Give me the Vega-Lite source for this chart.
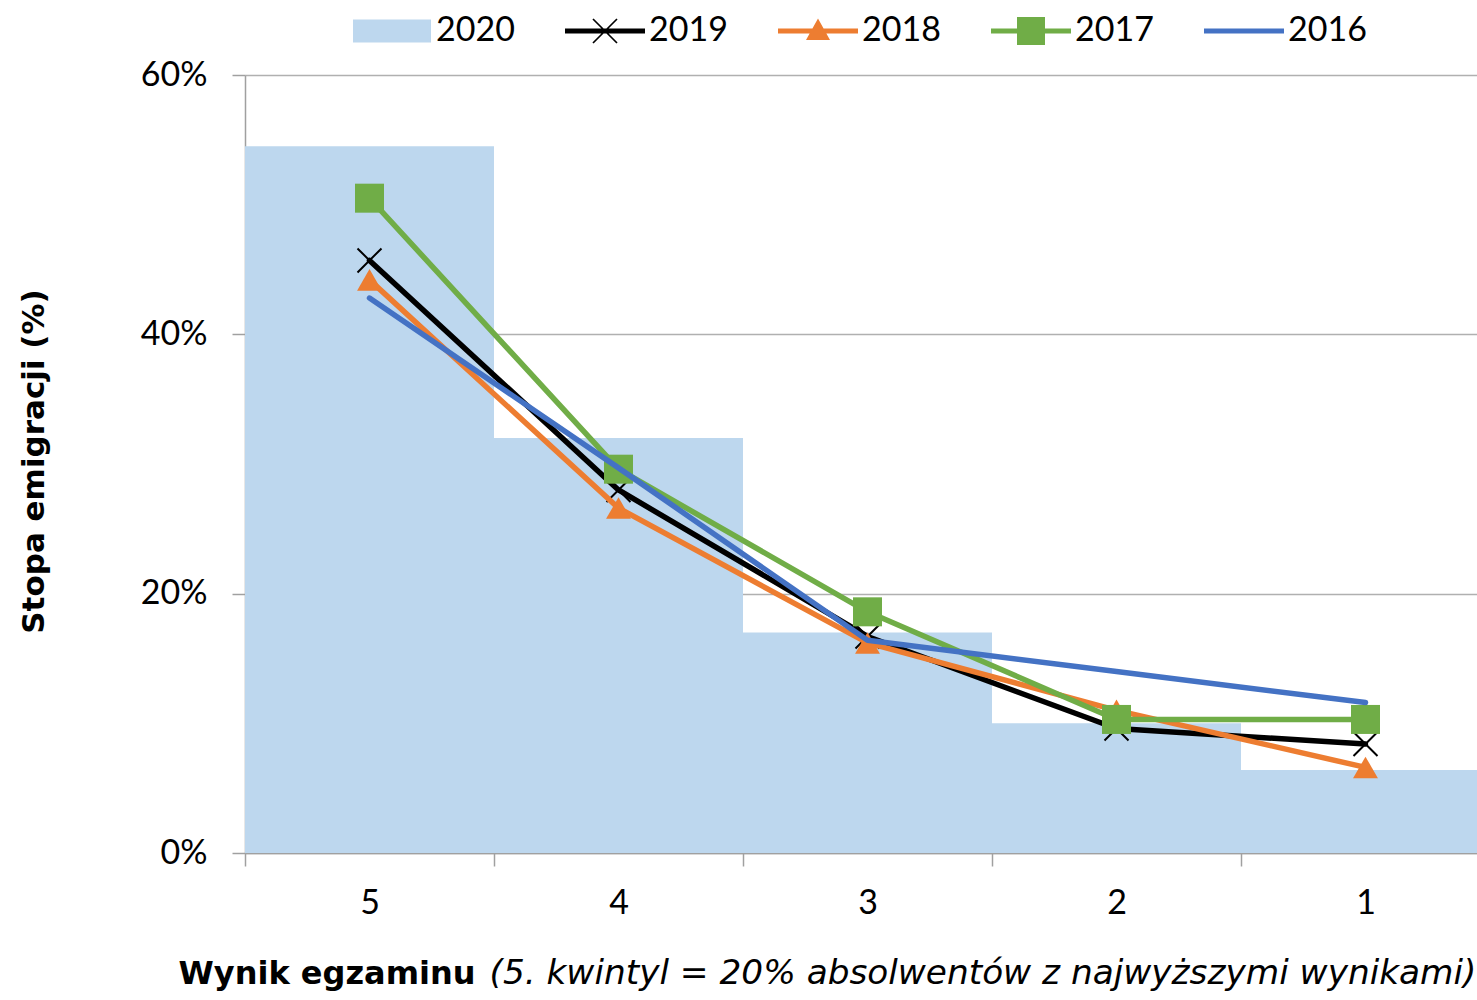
{
  "$schema": "https://vega.github.io/schema/vega-lite/v6.json",
  "autosize": {"type": "none"},
  "padding": {"left": 245, "top": 75, "right": 0, "bottom": 147},
  "width": 1232,
  "height": 778,
  "background": "white",
  "config": {
    "view": {"stroke": null},
    "font": "Lato",
    "axis": {
      "labelFont": "Lato",
      "labelFontSize": 34,
      "labelColor": "#000000",
      "titleFont": "DejaVu Sans",
      "titleFontSize": 32,
      "titleColor": "#000000",
      "domainColor": "#a0a0a0",
      "domainWidth": 1.5,
      "tickColor": "#a0a0a0",
      "tickWidth": 1.5,
      "gridColor": "#b0b0b0",
      "gridWidth": 1.5
    },
    "legend": {
      "labelFont": "Lato", "labelFontSize": 34, "labelColor": "#000000",
      "symbolSize": 400, "symbolStrokeWidth": 0, "symbolOpacity": 1, "padding": 0
    },
    "line": {"strokeWidth": 5.5, "strokeCap": "round", "strokeJoin": "round"}
  },
  "data": {
    "values": [
      {"q": "5", "year": "2020", "v": 0.545},
      {"q": "4", "year": "2020", "v": 0.32},
      {"q": "3", "year": "2020", "v": 0.17},
      {"q": "2", "year": "2020", "v": 0.10},
      {"q": "1", "year": "2020", "v": 0.064},
      {"q": "5", "year": "2019", "v": 0.457},
      {"q": "4", "year": "2019", "v": 0.28},
      {"q": "3", "year": "2019", "v": 0.167},
      {"q": "2", "year": "2019", "v": 0.096},
      {"q": "1", "year": "2019", "v": 0.084},
      {"q": "5", "year": "2018", "v": 0.442},
      {"q": "4", "year": "2018", "v": 0.266},
      {"q": "3", "year": "2018", "v": 0.162},
      {"q": "2", "year": "2018", "v": 0.11},
      {"q": "1", "year": "2018", "v": 0.066},
      {"q": "5", "year": "2017", "v": 0.505},
      {"q": "4", "year": "2017", "v": 0.296},
      {"q": "3", "year": "2017", "v": 0.186},
      {"q": "2", "year": "2017", "v": 0.103},
      {"q": "1", "year": "2017", "v": 0.103},
      {"q": "5", "year": "2016", "v": 0.428},
      {"q": "4", "year": "2016", "v": 0.297},
      {"q": "3", "year": "2016", "v": 0.164},
      {"q": "2", "year": "2016", "v": 0.14},
      {"q": "1", "year": "2016", "v": 0.116}
    ]
  },
  "resolve": {"axis": {"x": "independent"}},
  "layer": [
    {
      "transform": [{"filter": "datum.year == '2020'"}],
      "mark": {"type": "bar", "opacity": 1},
      "encoding": {
        "x": {
          "field": "q", "type": "ordinal", "sort": ["5", "4", "3", "2", "1"],
          "scale": {"paddingInner": 0, "paddingOuter": 0, "range": [0, 1245]},
          "axis": {
            "tickBand": "extent", "tickSize": 13, "labelPadding": 20, "labelAngle": 0,
            "title": "Wynik egzaminu", "titleFontWeight": "bold",
            "titleX": -67, "titleY": 130, "titleAlign": "left", "titleAnchor": null, "titleBaseline": "alphabetic",
            "grid": false
          }
        },
        "y": {
          "field": "v", "type": "quantitative",
          "scale": {"domain": [0, 0.6], "nice": false},
          "axis": {
            "values": [0, 0.2, 0.4, 0.6], "format": ".0%", "tickSize": 13, "labelPadding": 25,
            "title": "Stopa emigracji (%)", "titleFontWeight": "bold", "titleFontSize": 31,
            "titleAngle": 270, "titleX": -202, "titleY": 386, "titleAlign": "center", "titleBaseline": "alphabetic",
            "grid": true
          }
        },
        "color": {
          "field": "year", "type": "nominal",
          "scale": {"domain": ["2020", "2019", "2018", "2017", "2016"], "range": ["#bdd7ee", "#000000", "#ed7d31", "#70ad47", "#4472c4"]},
          "legend": {
            "title": null, "orient": "none", "legendX": 107, "legendY": -61, "direction": "horizontal", "columns": 5,
            "symbolOffset": 23, "labelOffset": 27, "columnPadding": 50
          }
        }
      }
    },
    {
      "transform": [{"filter": "false"}],
      "mark": {"type": "point", "filled": true, "opacity": 1, "strokeWidth": 0},
      "encoding": {
        "x": {"field": "q", "type": "ordinal", "sort": ["5", "4", "3", "2", "1"], "axis": null},
        "y": {"field": "v", "type": "quantitative"},
        "color": {"field": "year", "type": "nominal"},
        "shape": {
          "field": "year", "type": "nominal",
          "scale": {
            "domain": ["2020", "2019", "2018", "2017", "2016"],
            "range": [
              "M-3.9,-1.15H3.9V1.15H-3.9Z",
              "M-4,-0.25H4V0.25H-4ZM-1.14,-1.26L1.26,1.14L1.14,1.26L-1.26,-1.14ZM-1.26,1.14L1.14,-1.26L1.26,-1.14L-1.14,1.26Z",
              "M-4,-0.25H4V0.25H-4ZM0,-1.25L1.2,0.9L-1.2,0.9Z",
              "M-4,-0.25H4V0.25H-4ZM-1.4,-1.4H1.4V1.4H-1.4Z",
              "M-4,-0.25H4V0.25H-4Z"
            ]
          },
          "legend": {
            "title": null, "orient": "none", "legendX": 107, "legendY": -61, "direction": "horizontal", "columns": 5,
            "symbolOffset": 23, "labelOffset": 27, "columnPadding": 50
          }
        }
      }
    },
    {
      "transform": [{"filter": "datum.year == '2019'"}],
      "mark": {"type": "line", "color": "#000000"},
      "encoding": {
        "x": {
          "field": "q", "type": "ordinal", "sort": ["5", "4", "3", "2", "1"],
          "axis": {
            "orient": "bottom", "labels": false, "ticks": false, "domain": false, "grid": false,
            "title": "(5. kwintyl = 20% absolwentów z najwyższymi wynikami)",
            "titleFontStyle": "italic", "titleFontWeight": "normal", "titleFontSize": 34.3,
            "titleX": 244, "titleY": 130, "titleAlign": "left", "titleAnchor": null, "titleBaseline": "alphabetic"
          }
        },
        "y": {"field": "v", "type": "quantitative"}
      }
    },
    {
      "transform": [{"filter": "datum.year == '2019'"}],
      "mark": {"type": "point", "shape": "M-1,-1L1,1M-1,1L1,-1", "filled": false, "stroke": "#000000", "strokeWidth": 2, "size": 576, "opacity": 1},
      "encoding": {
        "x": {"field": "q", "type": "ordinal", "sort": ["5", "4", "3", "2", "1"], "axis": null},
        "y": {"field": "v", "type": "quantitative"}
      }
    },
    {
      "transform": [{"filter": "datum.year == '2018'"}],
      "mark": {"type": "line", "color": "#ed7d31"},
      "encoding": {
        "x": {"field": "q", "type": "ordinal", "sort": ["5", "4", "3", "2", "1"], "axis": null},
        "y": {"field": "v", "type": "quantitative"}
      }
    },
    {
      "transform": [{"filter": "datum.year == '2018'"}],
      "mark": {"type": "point", "shape": "triangle-up", "filled": true, "color": "#ed7d31", "size": 620, "opacity": 1},
      "encoding": {
        "x": {"field": "q", "type": "ordinal", "sort": ["5", "4", "3", "2", "1"], "axis": null},
        "y": {"field": "v", "type": "quantitative"}
      }
    },
    {
      "transform": [{"filter": "datum.year == '2017'"}],
      "mark": {"type": "line", "color": "#70ad47"},
      "encoding": {
        "x": {"field": "q", "type": "ordinal", "sort": ["5", "4", "3", "2", "1"], "axis": null},
        "y": {"field": "v", "type": "quantitative"}
      }
    },
    {
      "transform": [{"filter": "datum.year == '2017'"}],
      "mark": {"type": "point", "shape": "square", "filled": true, "color": "#70ad47", "size": 841, "opacity": 1},
      "encoding": {
        "x": {"field": "q", "type": "ordinal", "sort": ["5", "4", "3", "2", "1"], "axis": null},
        "y": {"field": "v", "type": "quantitative"}
      }
    },
    {
      "transform": [{"filter": "datum.year == '2016'"}],
      "mark": {"type": "line", "color": "#4472c4"},
      "encoding": {
        "x": {"field": "q", "type": "ordinal", "sort": ["5", "4", "3", "2", "1"], "axis": null},
        "y": {"field": "v", "type": "quantitative"}
      }
    }
  ]
}
